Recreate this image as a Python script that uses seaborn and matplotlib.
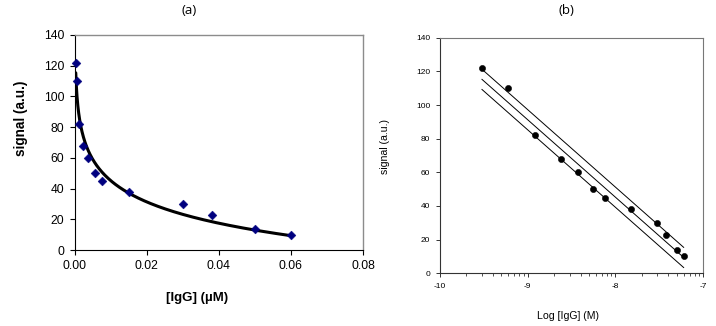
import numpy as np
import pandas as pd
import matplotlib
matplotlib.use("Agg")
import matplotlib.pyplot as plt
from matplotlib.ticker import FixedLocator
import seaborn as sns

# IgG concentration (uM) and measured signal (a.u.)
igg_um = [0.0003, 0.0006, 0.0012, 0.0024, 0.0037, 0.0055, 0.0076, 0.015, 0.030, 0.038, 0.050, 0.060]
signal = [122, 110, 82, 68, 60, 50, 45, 38, 30, 23, 14, 10]

x_ticks_a = [0.0, 0.02, 0.04, 0.06, 0.08]
y_ticks = [0, 20, 40, 60, 80, 100, 120, 140]
x_ticks_b = [-10, -9, -8, -7]

df = pd.DataFrame({"conc": igg_um, "signal": signal})
df["log_M"] = np.log10(df["conc"] * 1e-6)

# logarithmic fit (same for both panels)
slope, icpt = np.polyfit(df["log_M"], df["signal"], 1)
resid = df["signal"] - (slope * df["log_M"] + icpt)
sd = np.sqrt((resid ** 2).sum() / (len(df) - 2))

sns.set_style("ticks")
plt.rcParams["font.family"] = ["Liberation Sans", "DejaVu Sans"]
plt.rcParams["axes.unicode_minus"] = False
plt.rcParams["text.color"] = "black"
plt.rcParams["axes.labelcolor"] = "black"
plt.rcParams["xtick.color"] = "black"
plt.rcParams["ytick.color"] = "black"

fig = plt.figure(figsize=(7.16, 3.26), dpi=100)
ax1 = fig.add_axes([0.1043, 0.233, 0.4027, 0.66])
ax2 = fig.add_axes([0.6145, 0.1617, 0.3677, 0.7226])

# ---- (a) linear concentration
xs = np.geomspace(df["conc"].min(), df["conc"].max(), 300)
curve = pd.DataFrame({"x": xs, "y": slope * np.log10(xs * 1e-6) + icpt})
sns.lineplot(data=curve, x="x", y="y", ax=ax1, color="black", lw=2.2)
sns.scatterplot(data=df, x="conc", y="signal", ax=ax1, marker="D", s=20,
                color="#00007f", edgecolor="#00007f", zorder=3, clip_on=False)
ax1.set_xlim(0, 0.08)
ax1.set_ylim(0, 140)
ax1.set_xticks(x_ticks_a)
ax1.set_xticklabels([f"{v:.2f}" for v in x_ticks_a])
ax1.set_yticks(y_ticks)
ax1.tick_params(labelsize=8.7, length=3.5, width=0.8, pad=4, color="black")
for s in ["left", "bottom"]:
    ax1.spines[s].set_color("black")
    ax1.spines[s].set_linewidth(0.8)
for s in ["top", "right"]:
    ax1.spines[s].set_visible(True)
    ax1.spines[s].set_color("#8c8c8c")
    ax1.spines[s].set_linewidth(1.0)
ax1.set_xlabel("[IgG] (\u00b5M)", fontsize=9.5, fontweight="bold", va="center")
ax1.xaxis.set_label_coords(0.424, -0.223)
ax1.set_ylabel("signal (a.u.)", fontsize=9.8, fontweight="bold", va="center")
ax1.yaxis.set_label_coords(-0.185, 0.612)
ax1.set_title("(a)", x=0.396, y=1.112, va="center", pad=0, fontsize=9.5,
              family=["Open Sans", "DejaVu Sans"])

# ---- (b) log concentration with fit and +/- band
xl = np.linspace(df["log_M"].min(), df["log_M"].max(), 50)
for off in [sd, 0, -sd]:
    line = pd.DataFrame({"x": xl, "y": slope * xl + icpt + off})
    sns.lineplot(data=line, x="x", y="y", ax=ax2, color="black", lw=0.7)
sns.scatterplot(data=df, x="log_M", y="signal", ax=ax2, marker="o", s=20,
                color="black", edgecolor="black", zorder=3)
ax2.set_xlim(-10, -7)
ax2.set_ylim(0, 140)
ax2.set_xticks(x_ticks_b)
ax2.set_yticks(y_ticks)
minors = [d + np.log10(k) for d in x_ticks_b[:-1] for k in range(2, 10)]
ax2.xaxis.set_minor_locator(FixedLocator(minors))
ax2.tick_params(which="major", labelsize=6, length=3, width=0.7, pad=4, color="#333333")
ax2.tick_params(which="minor", length=2, width=0.6, color="#333333")
for s in ["left", "bottom"]:
    ax2.spines[s].set_color("#333333")
    ax2.spines[s].set_linewidth(0.8)
for s in ["top", "right"]:
    ax2.spines[s].set_visible(True)
    ax2.spines[s].set_color("#777777")
    ax2.spines[s].set_linewidth(0.8)
ax2.set_xlabel("Log [IgG] (M)", fontsize=7.6, va="center")
ax2.xaxis.set_label_coords(0.487, -0.181)
ax2.set_ylabel("signal (a.u.)", fontsize=7.6, va="center")
ax2.yaxis.set_label_coords(-0.209, 0.537)
ax2.set_title("(b)", x=0.481, y=1.115, va="center", pad=0, fontsize=9.5,
              family=["Open Sans", "DejaVu Sans"])

fig.savefig("out.png", dpi=100)
